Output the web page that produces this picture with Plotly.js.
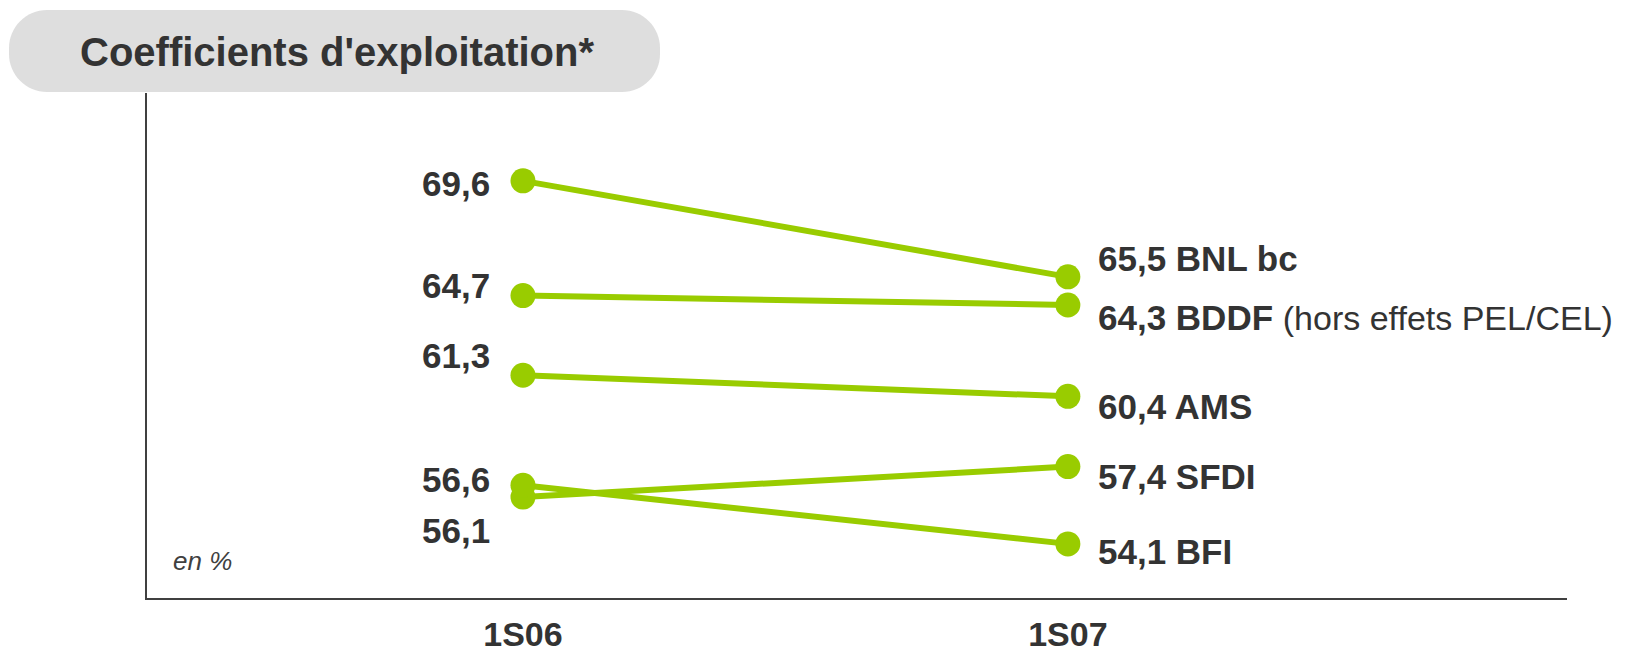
<!DOCTYPE html>
<html>
<head>
<meta charset="utf-8">
<script src="https://cdn.plot.ly/plotly-3.0.1.min.js"></script>
<style>
  html, body { margin: 0; padding: 0; background: #ffffff; }
  #chart { width: 1625px; height: 655px; }
</style>
</head>
<body>
<div id="chart"></div>
<script>
// ---- data ----
const categories = ['1S06', '1S07'];
const seriesNames = ['BNL bc', 'BDDF', 'AMS', 'SFDI', 'BFI'];
const seriesNotes = ['', '(hors effets PEL/CEL)', '', '', ''];
const values1S06 = [69.6, 64.7, 61.3, 56.1, 56.6];
const values1S07 = [65.5, 64.3, 60.4, 57.4, 54.1];
const chartTitle = "Coefficients d'exploitation*";
const unitNote = 'en %';

// ---- styling / placement (not data) ----
const leftLabelShift = [-3, 10, 20, -33, 6];
const rightLabelShift = [18, -13, -10, -10, -8];
const green = '#99cc00';
const textColor = '#333333';
const labelFont = '"Liberation Sans", Arial, sans-serif';
const wide = '"Liberation Sans", Arial, sans-serif';
const labelSize = 35;

const W = 1625, H = 655;
const M = {l: 147, r: 58, t: 93, b: 57};
const pw = W - M.l - M.r, ph = H - M.t - M.b;
const fx = X => (X - M.l) / pw;
const fy = Y => (H - M.b - Y) / ph;

const fmt = v => v.toFixed(1).replace('.', ',');

const traces = seriesNames.map((name, i) => ({
  type: 'scatter',
  mode: 'lines+markers',
  x: categories,
  y: [values1S06[i], values1S07[i]],
  name: name,
  line: {color: green, width: 6},
  marker: {color: green, size: 25},
  hoverinfo: 'skip',
  cliponaxis: false,
  showlegend: false
}));

const annotations = [];
seriesNames.forEach((name, i) => {
  annotations.push({
    x: categories[0], y: values1S06[i], xref: 'x', yref: 'y',
    text: '<b>' + fmt(values1S06[i]) + '</b>',
    showarrow: false, xanchor: 'right', yanchor: 'middle',
    xshift: -31, yshift: leftLabelShift[i],
    font: {family: labelFont, size: labelSize, color: textColor}
  });
  const note = seriesNotes[i] ? ' <span style="font-size:34px">' + seriesNotes[i] + '</span>' : '';
  annotations.push({
    x: categories[1], y: values1S07[i], xref: 'x', yref: 'y',
    text: '<b>' + fmt(values1S07[i]) + ' ' + name + '</b>' + note,
    showarrow: false, xanchor: 'left', yanchor: 'middle',
    xshift: 28, yshift: rightLabelShift[i],
    font: {family: labelFont, size: labelSize, color: textColor}
  });
});

annotations.push({
  x: fx(337), y: fy(52), xref: 'paper', yref: 'paper',
  text: '<b>' + chartTitle + '</b>', showarrow: false,
  xanchor: 'center', yanchor: 'middle',
  font: {family: wide, size: 40, color: textColor}
});
annotations.push({
  x: fx(171), y: fy(561), xref: 'paper', yref: 'paper',
  text: '<i>' + unitNote + '</i>', showarrow: false,
  xanchor: 'left', yanchor: 'middle',
  font: {family: wide, size: 26, color: '#404040'}
});

// rounded "pill" behind the title
function pillPath(x0, y0, x1, y1, r) {
  const P = (X, Y) => fx(X).toFixed(5) + ',' + fy(Y).toFixed(5);
  const k = 0.5523 * r;
  return 'M' + P(x0 + r, y0) +
    ' L' + P(x1 - r, y0) +
    ' C' + P(x1 - r + k, y0) + ' ' + P(x1, y0 + r - k) + ' ' + P(x1, y0 + r) +
    ' L' + P(x1, y1 - r) +
    ' C' + P(x1, y1 - r + k) + ' ' + P(x1 - r + k, y1) + ' ' + P(x1 - r, y1) +
    ' L' + P(x0 + r, y1) +
    ' C' + P(x0 + r - k, y1) + ' ' + P(x0, y1 - r + k) + ' ' + P(x0, y1 - r) +
    ' L' + P(x0, y0 + r) +
    ' C' + P(x0, y0 + r - k) + ' ' + P(x0 + r - k, y0) + ' ' + P(x0 + r, y0) + ' Z';
}

const layout = {
  width: W, height: H,
  margin: M,
  paper_bgcolor: '#ffffff',
  plot_bgcolor: '#ffffff',
  showlegend: false,
  xaxis: {
    type: 'category',
    range: [-0.690, 1.916],
    showgrid: false, zeroline: false,
    showline: true, linecolor: '#404040', linewidth: 2,
    ticks: '', ticklabelstandoff: 5,
    tickfont: {family: labelFont, size: 34, color: textColor, weight: 'bold'},
    fixedrange: true
  },
  yaxis: {
    range: [51.79, 73.35],
    showgrid: false, zeroline: false,
    showline: true, linecolor: '#404040', linewidth: 2,
    ticks: '', showticklabels: false,
    fixedrange: true
  },
  shapes: [{
    type: 'path', xref: 'paper', yref: 'paper',
    path: pillPath(9, 10, 660, 92, 38),
    fillcolor: '#dedede', line: {width: 0}, layer: 'below'
  }],
  annotations: annotations
};

Plotly.newPlot('chart', traces, layout, {staticPlot: true, displayModeBar: false});
</script>
</body>
</html>
